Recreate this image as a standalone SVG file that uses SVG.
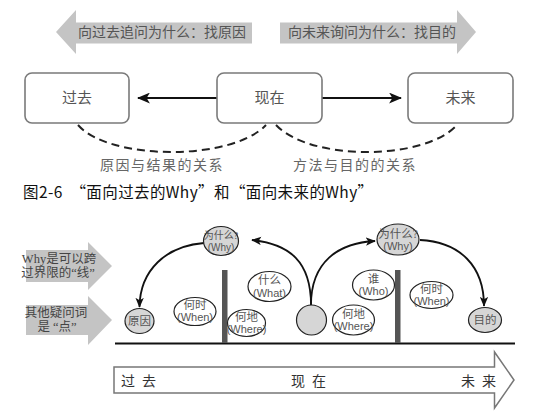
<svg xmlns="http://www.w3.org/2000/svg" width="551" height="411" viewBox="0 0 551 411">
<style>
.cn{font-family:"Liberation Serif","Noto Sans CJK SC",serif;}
.sans{font-family:"Liberation Sans","Noto Sans CJK SC",sans-serif;}
.box{fill:#fff;stroke:#7a7a7a;stroke-width:1.6;}
.lbl{font-size:15px;fill:#555;text-anchor:middle;}
.bar{fill:#c4c4c4;}
.bartxt{font-size:14px;fill:#555;text-anchor:middle;}
.dash{fill:none;stroke:#222;stroke-width:2;stroke-dasharray:8 5;}
.conn{fill:none;stroke:#111;stroke-width:2;}
.curve{fill:none;stroke:#111;stroke-width:1.8;}
.rel{font-size:14px;fill:#666;text-anchor:middle;letter-spacing:1.5px;}
.ell{fill:#fff;stroke:#222;stroke-width:1.2;}
.gell{fill:#d6d6d6;stroke:#222;stroke-width:1.2;}
.et{font-size:11.5px;fill:#555;text-anchor:middle;}
.wt{font-size:10px;fill:#555;text-anchor:middle;}
.es{font-size:11px;fill:#555;text-anchor:middle;}
.side{font-size:12.5px;fill:#444;text-anchor:middle;}
.vbar{fill:#555;}
</style>
<defs>
<marker id="ah" viewBox="0 0 12 10" refX="11" refY="5" markerWidth="13" markerHeight="11" markerUnits="userSpaceOnUse" orient="auto">
<path d="M0,0 L12,5 L0,10 L3,5 Z" fill="#111"/>
</marker>
<marker id="ah2" viewBox="0 0 12 10" refX="11" refY="5" markerWidth="10" markerHeight="9" markerUnits="userSpaceOnUse" orient="auto">
<path d="M0,0 L12,5 L0,10 L3,5 Z" fill="#111"/>
</marker>
</defs>

<g id="banner-past">
<polygon class="bar" points="56,32 76,10 76,22.5 252,22.5 252,43.5 76,43.5 76,54"/>
<text class="cn bartxt" x="162" y="37">向过去追问为什么：找原因</text>
</g>
<g id="banner-future">
<polygon class="bar" points="280,22.5 457,22.5 457,10 476,32 457,54 457,43.5 280,43.5"/>
<text class="cn bartxt" x="372" y="37">向未来询问为什么：找目的</text>
</g>

<g id="connectors-top">
<line class="conn" x1="217" y1="98" x2="138" y2="98" marker-end="url(#ah)"/>
<line class="conn" x1="322" y1="98" x2="401" y2="98" marker-end="url(#ah)"/>
<path class="dash" d="M78,125 C110,161 232,161 266,125"/>
<path class="dash" d="M276,125 C310,161 424,161 457,125"/>
</g>

<g id="node-past">
<rect class="box" x="25" y="73" width="104" height="50" rx="7"/>
<text class="cn lbl" x="77" y="103">过去</text>
</g>
<g id="node-present">
<rect class="box" x="217" y="73" width="105" height="50" rx="7"/>
<text class="cn lbl" x="269.5" y="103">现在</text>
</g>
<g id="node-future">
<rect class="box" x="408" y="73" width="105" height="50" rx="7"/>
<text class="cn lbl" x="460.5" y="103">未来</text>
</g>

<text class="cn rel" x="162" y="170">原因与结果的关系</text>
<text class="cn rel" x="355" y="170">方法与目的的关系</text>

<text x="23" y="198" font-family="'Noto Sans CJK SC','Liberation Sans',sans-serif" font-size="15.5" letter-spacing="0.4" fill="#111" xml:space="preserve">图2-6  “面向过去的Why”和“面向未来的Why”</text>

<g id="side-line">
<polygon class="bar" points="26,250 88,250 88,242 112,266 88,290 88,282 26,282"/>
<text class="cn side" x="59" y="263">Why是可以跨</text>
<text class="cn side" x="58" y="277">过界限的“线”</text>
</g>
<g id="side-point">
<polygon class="bar" points="26,305 88,305 88,296 112,320 88,345 88,335 26,335"/>
<text class="cn side" x="56" y="317">其他疑问词</text>
<text class="cn side" x="57" y="331" xml:space="preserve">是 “点”</text>
</g>

<line x1="115" y1="343.5" x2="515" y2="343.5" stroke="#111" stroke-width="2"/>
<rect class="vbar" x="222" y="270" width="5.5" height="73"/>
<rect class="vbar" x="395" y="270" width="5.5" height="73"/>

<g id="connectors-bottom">
<path class="curve" d="M204,243 C166,246 140,270 139.5,307" marker-end="url(#ah2)"/>
<path class="curve" d="M311,305 C311,262 290,244 252,240" marker-end="url(#ah2)"/>
<path class="curve" d="M311,305 C311,262 338,243 375,241" marker-end="url(#ah2)"/>
<path class="curve" d="M420,240 C460,242 484,266 484,306" marker-end="url(#ah2)"/>
</g>

<g id="why-1">
<ellipse class="gell" cx="221" cy="241" rx="17.5" ry="14.5"/>
<text class="cn wt" x="221" y="239">为什么?</text>
<text class="sans wt" x="221" y="250.5">(Why)</text>
</g>
<g id="why-2">
<ellipse class="gell" cx="398" cy="239.5" rx="21" ry="15.5"/>
<text class="cn et" x="398" y="237.5">为什么?</text>
<text class="sans es" x="398" y="249.5">(Why)</text>
</g>
<g id="cause">
<ellipse class="gell" cx="139.5" cy="321" rx="14.5" ry="12.5"/>
<text class="cn et" x="139.5" y="325">原因</text>
</g>
<g id="when-1">
<ellipse class="ell" cx="195" cy="311.5" rx="21" ry="14"/>
<text class="cn et" x="195" y="309">何时</text>
<text class="sans es" x="195" y="321">(When)</text>
</g>
<g id="what">
<ellipse class="ell" cx="269.5" cy="286.5" rx="21.5" ry="15"/>
<text class="cn et" x="269.5" y="284">什么</text>
<text class="sans es" x="269.5" y="296.5">(What)</text>
</g>
<g id="where-1">
<ellipse class="ell" cx="246.5" cy="323" rx="19" ry="13.5"/>
<text class="cn et" x="246.5" y="320.5">何地</text>
<text class="sans es" x="246.5" y="332.5">(Where)</text>
</g>
<g id="now">
<ellipse class="gell" cx="311.5" cy="320" rx="15" ry="15"/>
</g>
<g id="who">
<ellipse class="ell" cx="373.5" cy="285" rx="21" ry="15"/>
<text class="cn et" x="373.5" y="282.5">谁</text>
<text class="sans es" x="373.5" y="295">(Who)</text>
</g>
<g id="where-2">
<ellipse class="ell" cx="353.5" cy="320" rx="21" ry="15"/>
<text class="cn et" x="353.5" y="317.5">何地</text>
<text class="sans es" x="353.5" y="330">(Where)</text>
</g>
<g id="when-2">
<ellipse class="ell" cx="431.5" cy="295" rx="21.5" ry="13.5"/>
<text class="cn et" x="431.5" y="292.5">何时</text>
<text class="sans es" x="431.5" y="304.5">(When)</text>
</g>
<g id="purpose">
<ellipse class="gell" cx="485" cy="320" rx="16.5" ry="12.5"/>
<text class="cn et" x="485" y="324">目的</text>
</g>

<g id="timeline">
<polygon points="114,367 494.5,367 494.5,352 514,380 494.5,408 494.5,393 114,393" fill="#fff" stroke="#777" stroke-width="1.5"/>
<text class="cn" x="121" y="386" font-size="14" fill="#333" letter-spacing="7">过去</text>
<text class="cn" x="291" y="386" font-size="14" fill="#333" letter-spacing="7">现在</text>
<text class="cn" x="461" y="386" font-size="14" fill="#333" letter-spacing="7">未来</text>
</g>
</svg>
